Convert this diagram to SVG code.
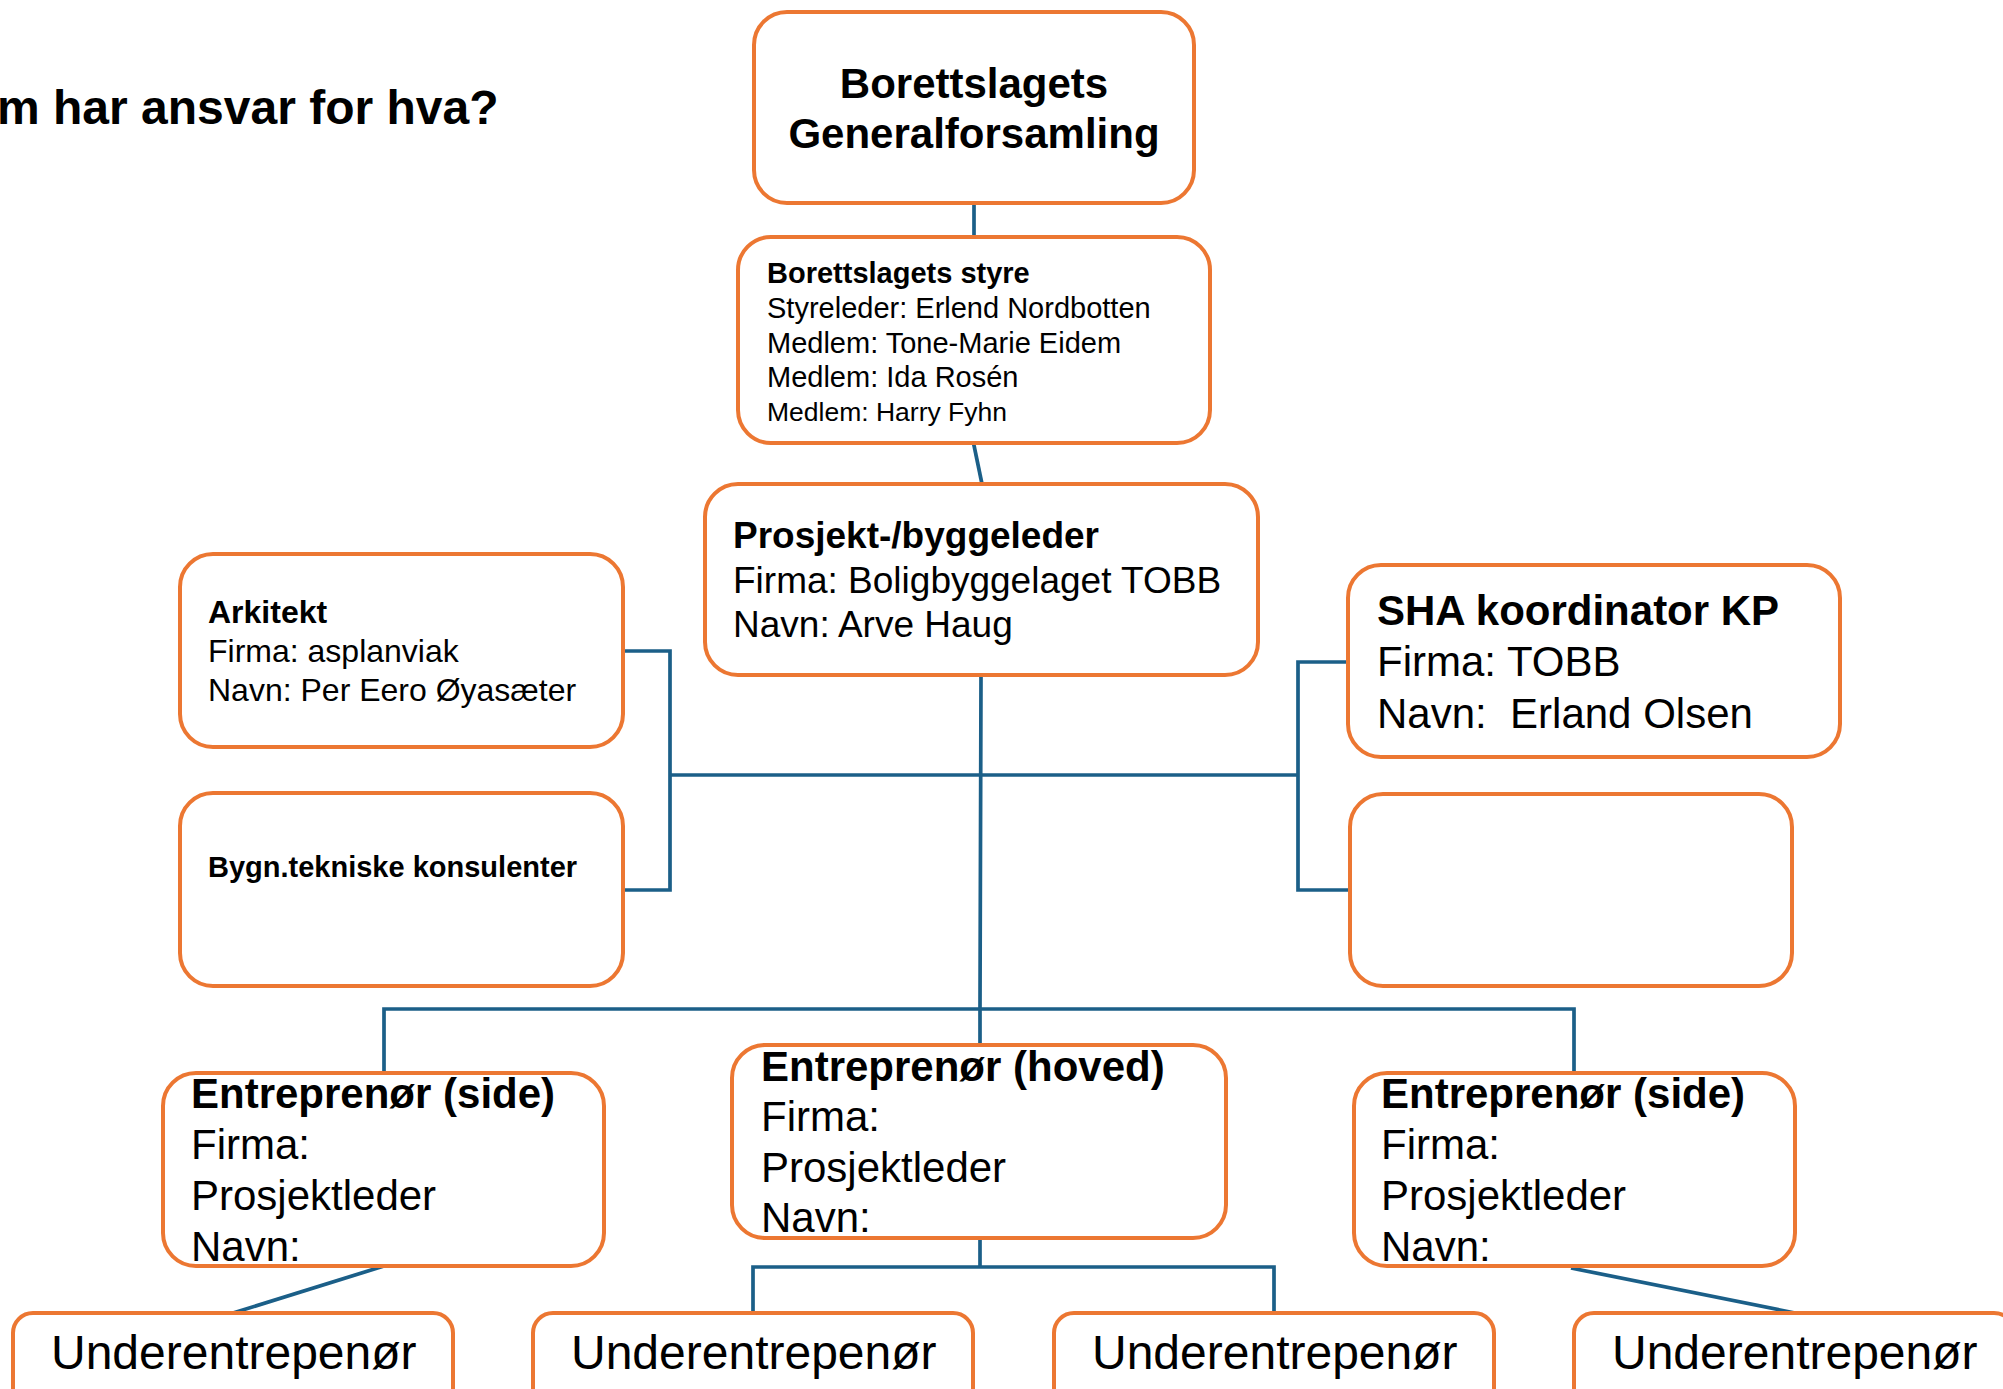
<svg xmlns="http://www.w3.org/2000/svg" width="2003" height="1389" viewBox="0 0 2003 1389">
<style>
text{font-family:"Liberation Sans",Arial,Helvetica,sans-serif;fill:#000}
.b{font-weight:bold}
.box{fill:#fff;stroke:#EC7732;stroke-width:4}
.conn{fill:none;stroke:#1B5F88;stroke-width:3.7}
</style>
<rect x="0" y="0" width="2003" height="1389" fill="#fff"/>
<text class="b" x="-3" y="124" font-size="48">m har ansvar for hva?</text>
<g id="connectors">
<path class="conn" d="M974 203V237"/>
<path class="conn" d="M973.5 443L982 484"/>
<path class="conn" d="M981 675L980 1009V1045"/>
<path class="conn" d="M623 651H670V890H623"/>
<path class="conn" d="M670 775H1298"/>
<path class="conn" d="M1348 662H1298V890H1350"/>
<path class="conn" d="M384 1073V1009H1574V1073"/>
<path class="conn" d="M980 1238V1267"/>
<path class="conn" d="M753 1313V1267H1274V1313"/>
<path class="conn" d="M384 1266L233 1313"/>
<path class="conn" d="M1571 1268L1795 1313"/>
</g>
<g id="generalforsamling">
<rect class="box" x="754" y="12" width="440" height="191" rx="33"/>
<text class="b" x="974" y="98" font-size="42" text-anchor="middle">Borettslagets</text>
<text class="b" x="974" y="148" font-size="42" text-anchor="middle">Generalforsamling</text>
</g>
<g id="styre">
<rect class="box" x="738" y="237" width="472" height="206" rx="33"/>
<text class="b" x="767" y="283" font-size="29">Borettslagets styre</text>
<text x="767" y="318" font-size="29">Styreleder: Erlend Nordbotten</text>
<text x="767" y="353" font-size="29">Medlem: Tone-Marie Eidem</text>
<text x="767" y="387" font-size="29">Medlem: Ida Rosén</text>
<text x="767" y="421" font-size="26.5">Medlem: Harry Fyhn</text>
</g>
<g id="prosjektleder">
<rect class="box" x="705" y="484" width="553" height="191" rx="33"/>
<text class="b" x="733" y="548" font-size="37">Prosjekt-/byggeleder</text>
<text x="733" y="593" font-size="37">Firma: Boligbyggelaget TOBB</text>
<text x="733" y="637" font-size="37">Navn: Arve Haug</text>
</g>
<g id="arkitekt">
<rect class="box" x="180" y="554" width="443" height="193" rx="33"/>
<text class="b" x="208" y="623" font-size="32">Arkitekt</text>
<text x="208" y="662" font-size="32">Firma: asplanviak</text>
<text x="208" y="701" font-size="32">Navn: Per Eero Øyasæter</text>
</g>
<g id="bygn">
<rect class="box" x="180" y="793" width="443" height="193" rx="33"/>
<text class="b" x="208" y="877" font-size="29">Bygn.tekniske konsulenter</text>
</g>
<g id="sha">
<rect class="box" x="1348" y="565" width="492" height="192" rx="33"/>
<text class="b" x="1377" y="625" font-size="42">SHA koordinator KP</text>
<text x="1377" y="676" font-size="42">Firma: TOBB</text>
<text x="1377" y="728" font-size="42" xml:space="preserve">Navn:  Erland Olsen</text>
</g>
<g id="tom">
<rect class="box" x="1350" y="794" width="442" height="192" rx="33"/>
</g>
<g id="entreprenor-side-venstre">
<rect class="box" x="163" y="1073" width="441" height="193" rx="33"/>
<text class="b" x="191" y="1108" font-size="42">Entreprenør (side)</text>
<text x="191" y="1159" font-size="42">Firma:</text>
<text x="191" y="1210" font-size="42">Prosjektleder</text>
<text x="191" y="1261" font-size="42">Navn:</text>
</g>
<g id="entreprenor-hoved">
<rect class="box" x="732" y="1045" width="494" height="193" rx="33"/>
<text class="b" x="761" y="1081" font-size="42">Entreprenør (hoved)</text>
<text x="761" y="1131" font-size="42">Firma:</text>
<text x="761" y="1182" font-size="42">Prosjektleder</text>
<text x="761" y="1232" font-size="42">Navn:</text>
</g>
<g id="entreprenor-side-hoyre">
<rect class="box" x="1354" y="1073" width="441" height="193" rx="33"/>
<text class="b" x="1381" y="1108" font-size="42">Entreprenør (side)</text>
<text x="1381" y="1159" font-size="42">Firma:</text>
<text x="1381" y="1210" font-size="42">Prosjektleder</text>
<text x="1381" y="1261" font-size="42">Navn:</text>
</g>
<g id="ue1">
<rect class="box" x="13" y="1313" width="440" height="193" rx="20"/>
<text x="51" y="1369" font-size="48">Underentrepenør</text>
</g>
<g id="ue2">
<rect class="box" x="533" y="1313" width="440" height="193" rx="20"/>
<text x="571" y="1369" font-size="48">Underentrepenør</text>
</g>
<g id="ue3">
<rect class="box" x="1054" y="1313" width="440" height="193" rx="20"/>
<text x="1092" y="1369" font-size="48">Underentrepenør</text>
</g>
<g id="ue4">
<rect class="box" x="1574" y="1313" width="440" height="193" rx="20"/>
<text x="1612" y="1369" font-size="48">Underentrepenør</text>
</g>
</svg>
